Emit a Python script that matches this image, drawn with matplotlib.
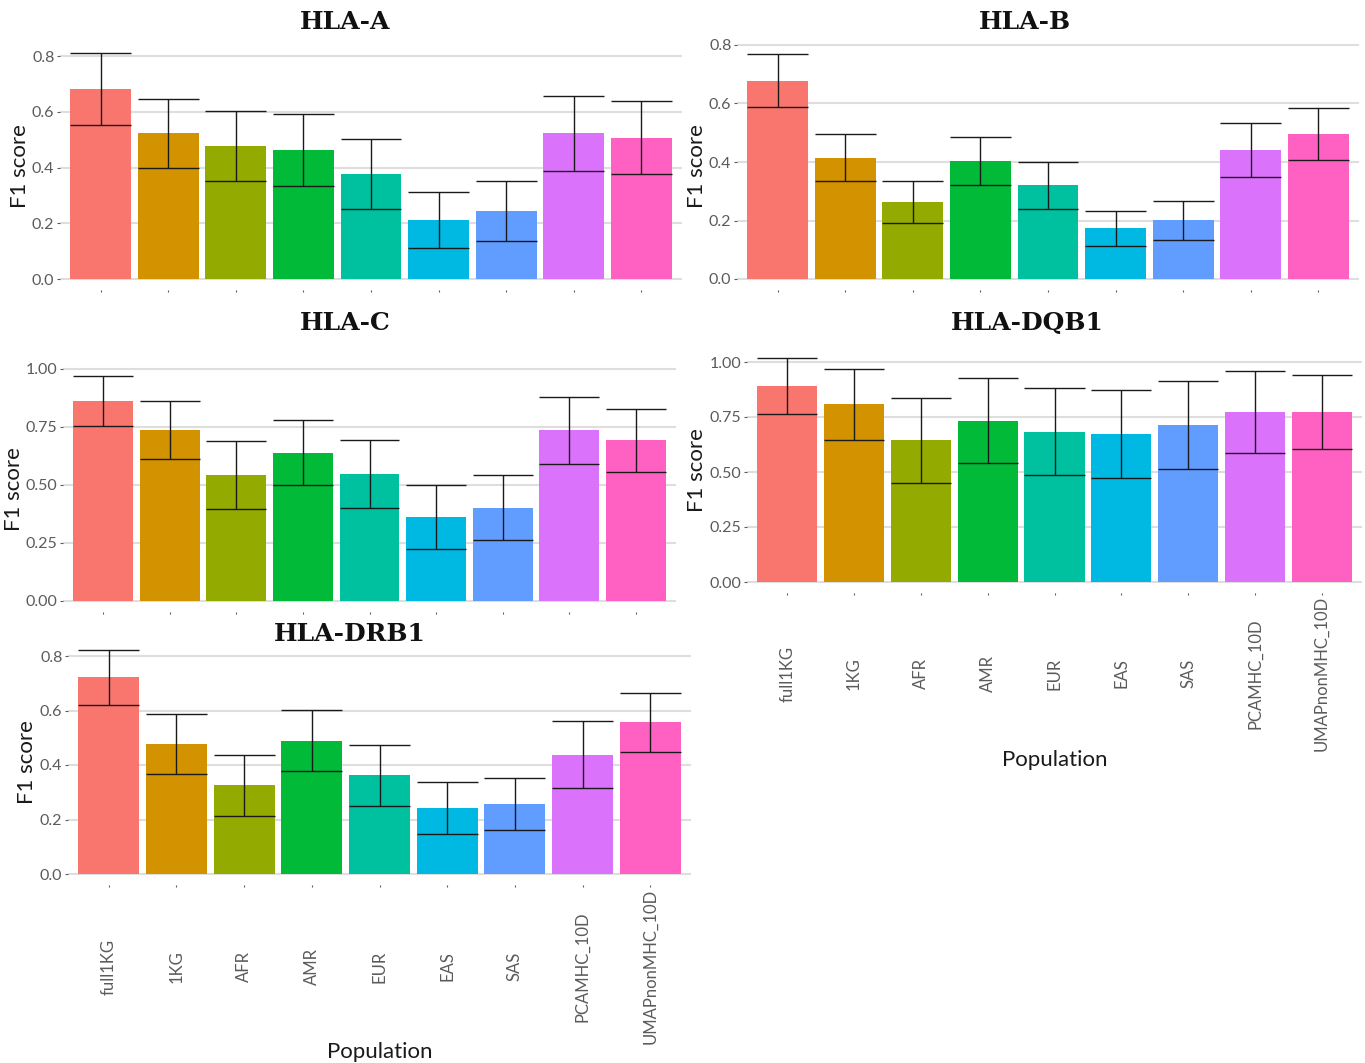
import numpy as np
import matplotlib.pyplot as plt
from matplotlib.ticker import FormatStrFormatter, MultipleLocator

# populations and ggplot hue colours
populations = ["full1KG", "1KG", "AFR", "AMR", "EUR", "EAS", "SAS",
               "PCAMHC_10D", "UMAPnonMHC_10D"]
bar_colors = ["#F8766D", "#D39200", "#93AA00", "#00BA38", "#00C19F",
              "#00B9E3", "#619CFF", "#DB72FB", "#FF61C3"]

# mean F1 score and error (half width) per gene
hla_a_f1 = [0.681, 0.522, 0.477, 0.464, 0.377, 0.212, 0.245, 0.522, 0.506]
hla_a_err = [0.128, 0.123, 0.124, 0.129, 0.126, 0.099, 0.107, 0.135, 0.131]

hla_b_f1 = [0.678, 0.415, 0.264, 0.405, 0.320, 0.173, 0.201, 0.440, 0.496]
hla_b_err = [0.091, 0.080, 0.072, 0.082, 0.081, 0.059, 0.067, 0.092, 0.088]

hla_c_f1 = [0.861, 0.737, 0.544, 0.640, 0.549, 0.364, 0.403, 0.735, 0.693]
hla_c_err = [0.107, 0.126, 0.146, 0.142, 0.146, 0.138, 0.139, 0.145, 0.136]

hla_dqb1_f1 = [0.891, 0.808, 0.645, 0.733, 0.684, 0.674, 0.715, 0.772, 0.772]
hla_dqb1_err = [0.126, 0.161, 0.193, 0.192, 0.196, 0.200, 0.200, 0.187, 0.168]

hla_drb1_f1 = [0.722, 0.476, 0.326, 0.489, 0.362, 0.242, 0.256, 0.437, 0.556]
hla_drb1_err = [0.101, 0.110, 0.112, 0.112, 0.112, 0.097, 0.096, 0.123, 0.110]

W, H = 1365, 1063
TICK_COLOR = "#5b5b5b"
GRID_COLOR = "#dedede"
FONT = "Lato"

fig = plt.figure(figsize=(W / 100, H / 100), dpi=100)


def draw_panel(name, f1, err, left, right, zero_px, ppu, step, fmt,
               title_xy, ylab_x, show_x=False, xlab_y=None, xtick_center=None):
    f1 = np.array(f1)
    err = np.array(err)
    ymax = np.max(f1 + err)
    ylim = (-0.05 * ymax, 1.05 * ymax)
    top = zero_px - ylim[1] * ppu
    bottom = zero_px - ylim[0] * ppu
    ax = fig.add_axes([left / W, 1 - bottom / H, (right - left) / W, (bottom - top) / H])
    x = np.arange(1, len(populations) + 1)

    ax.bar(x, f1, width=0.9, color=bar_colors, edgecolor="none", zorder=2)
    ax.vlines(x, f1 - err, f1 + err, color="#1a1a1a", lw=1.0, zorder=3)
    ax.hlines(f1 + err, x - 0.45, x + 0.45, color="#1a1a1a", lw=1.0, zorder=3)
    ax.hlines(f1 - err, x - 0.45, x + 0.45, color="#1a1a1a", lw=1.0, zorder=3)

    ax.set_xlim(0.4, len(populations) + 0.6)
    ax.set_ylim(*ylim)
    ax.yaxis.set_major_locator(MultipleLocator(step))
    ax.yaxis.set_major_formatter(FormatStrFormatter(fmt))
    ax.set_xticks(x)
    ax.grid(True, axis="y", color=GRID_COLOR, lw=1.5, zorder=0)
    ax.set_axisbelow(True)
    for s in ax.spines.values():
        s.set_visible(False)
    ax.tick_params(axis="y", length=2.5, width=0.8, color=TICK_COLOR,
                   labelcolor=TICK_COLOR, labelsize=11.5, pad=1.5)
    ax.tick_params(axis="x", length=1.5, width=0.8, color=TICK_COLOR,
                   labelcolor=TICK_COLOR)
    for lab in ax.get_yticklabels():
        lab.set_family(FONT)

    if show_x:
        pad_pt = (xtick_center - bottom) * 0.72 - 1.1
        ax.tick_params(axis="x", pad=pad_pt)
        ax.set_xticklabels(populations, rotation=90, ha="center", va="center",
                           family=FONT, fontsize=12)
        fig.text((left + right) / 2 / W, 1 - xlab_y / H, "Population",
                 ha="center", va="center", fontsize=16, family=FONT, color="#1a1a1a")
    else:
        ax.set_xticklabels([])

    fig.text(title_xy[0] / W, 1 - title_xy[1] / H, name, ha="center", va="center",
             fontsize=18, fontweight="bold", family="DejaVu Serif", color="#111111")
    fig.text(ylab_x / W, 1 - ((top + bottom) / 2) / H, "F1 score", rotation=90,
             ha="center", va="center", fontsize=16, family=FONT, color="#1a1a1a")
    return ax


draw_panel("HLA-A", hla_a_f1, hla_a_err, 60, 682, 279, 278.75, 0.2, "%.1f",
           (345, 22), 20)
draw_panel("HLA-B", hla_b_f1, hla_b_err, 737, 1359, 279, 292.5, 0.2, "%.1f",
           (1025, 22), 697)
draw_panel("HLA-C", hla_c_f1, hla_c_err, 63, 676, 601, 232, 0.25, "%.2f",
           (345, 323), 14)
draw_panel("HLA-DQB1", hla_dqb1_f1, hla_dqb1_err, 747, 1362, 582, 220, 0.25, "%.2f",
           (1027, 323), 697, show_x=True, xlab_y=760, xtick_center=673)
draw_panel("HLA-DRB1", hla_drb1_f1, hla_drb1_err, 68, 691, 874, 272.5, 0.2, "%.1f",
           (350, 634), 27, show_x=True, xlab_y=1052, xtick_center=966)

fig.savefig("out.png", dpi=100)
